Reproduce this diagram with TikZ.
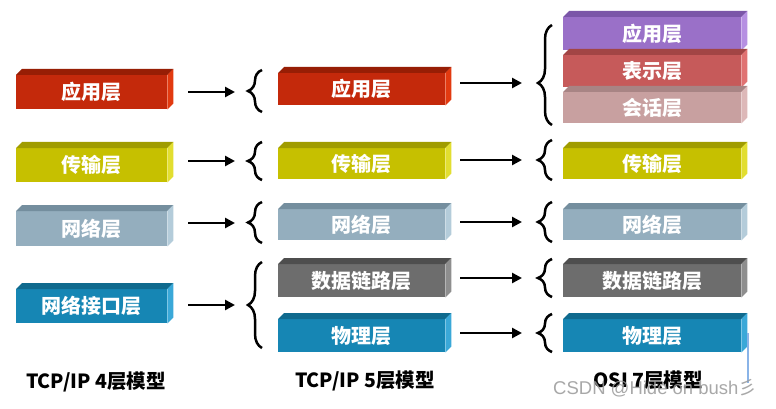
\documentclass[tikz,border=0pt]{standalone}
\usepackage{fontspec}
\setmainfont{Noto Sans CJK SC}
\newfontfamily\latinsans{Liberation Sans}
\usetikzlibrary{decorations.pathreplacing,arrows.meta,calc}

\definecolor{redF}{HTML}{C4290B}\definecolor{redT}{HTML}{971E05}\definecolor{redS}{HTML}{E23A10}
\definecolor{yelF}{HTML}{C6C000}\definecolor{yelT}{HTML}{A09C00}\definecolor{yelS}{HTML}{E2DE30}
\definecolor{gbF}{HTML}{94AEBE}\definecolor{gbT}{HTML}{748E9E}\definecolor{gbS}{HTML}{B4CCDA}
\definecolor{blF}{HTML}{1686B4}\definecolor{blT}{HTML}{0F6A8E}\definecolor{blS}{HTML}{3AA8D8}
\definecolor{dgF}{HTML}{6D6D6D}\definecolor{dgT}{HTML}{4E4E4E}\definecolor{dgS}{HTML}{8E8E8E}
\definecolor{puF}{HTML}{9A70C8}\definecolor{puT}{HTML}{7B56A8}\definecolor{puS}{HTML}{B690E2}
\definecolor{orF}{HTML}{C65A5A}\definecolor{orT}{HTML}{A24545}\definecolor{orS}{HTML}{E07272}
\definecolor{pkF}{HTML}{C8A0A0}\definecolor{pkT}{HTML}{A88484}\definecolor{pkS}{HTML}{DDB8B8}
\definecolor{markblue}{HTML}{8AB4E8}

\tikzset{
  layerbox/.style={rectangle, inner sep=0pt, fill=#1, text=white, anchor=north west,
    font=\bfseries\fontsize{20}{20}\selectfont},
  arr/.style={line width=2.8pt, -{Triangle[length=10pt,width=10pt]}},
  brc/.style={decorate, decoration={brace, amplitude=14pt, aspect=#1}, line width=2.5pt},
  brc/.default=0.5,
  caption/.style={font=\bfseries\fontsize{19.5}{19.5}\selectfont, text=black},
}

% name, x1, y1, x2, y2, front, top, side, text
\newcommand\lyr[9]{%
  \node[layerbox=#6, minimum width={#4pt-#2pt}, minimum height={#5pt-#3pt}] (#1) at (#2,#3) {#9};
  \fill[#7] (#1.north west) -- ++(6,-6) -- ($(#1.north east)+(6,-6)$) -- (#1.north east) -- cycle;
  \fill[#8] (#1.north east) -- ++(6,-6) -- ($(#1.south east)+(6,-6)$) -- (#1.south east) -- cycle;
}

\begin{document}
\begin{tikzpicture}[x=1pt,y=-1pt]
\useasboundingbox[fill=white] (0,0) rectangle (776,409);

% column 1: TCP/IP 4 layers
\lyr{A1}{16}{75}{167}{109}{redF}{redT}{redS}{应用层}
\lyr{A2}{16}{148}{167}{182}{yelF}{yelT}{yelS}{传输层}
\lyr{A3}{16}{211}{167}{246}{gbF}{gbT}{gbS}{网络层}
\lyr{A4}{16}{289}{167}{323}{blF}{blT}{blS}{网络接口层}

% column 2: TCP/IP 5 layers
\lyr{B1}{278}{73}{445}{105}{redF}{redT}{redS}{应用层}
\lyr{B2}{278}{148}{445}{179}{yelF}{yelT}{yelS}{传输层}
\lyr{B3}{278}{209}{445}{240}{gbF}{gbT}{gbS}{网络层}
\lyr{B4}{278}{264}{445}{297}{dgF}{dgT}{dgS}{数据链路层}
\lyr{B5}{278}{319}{445}{352}{blF}{blT}{blS}{物理层}

% column 3: OSI 7 layers
\lyr{C1}{563}{17}{741}{50}{puF}{puT}{puS}{应用层}
\lyr{C2}{563}{55}{741}{87}{orF}{orT}{orS}{表示层}
\lyr{C3}{563}{92}{741}{123}{pkF}{pkT}{pkS}{会话层}
\lyr{C4}{563}{148}{741}{179}{yelF}{yelT}{yelS}{传输层}
\lyr{C5}{563}{209}{741}{240}{gbF}{gbT}{gbS}{网络层}
\lyr{C6}{563}{264}{741}{297}{dgF}{dgT}{dgS}{数据链路层}
\lyr{C7}{563}{319}{741}{352}{blF}{blT}{blS}{物理层}

% braces before column 2
\draw[brc] (262,112) -- (262,70);  \coordinate (p1) at (248,92);
\draw[brc] (262,180) -- (262,142); \coordinate (p2) at (248,161);
\draw[brc] (262,243) -- (262,202); \coordinate (p3) at (248,223);
\draw[brc] (262,348) -- (262,262); \coordinate (p4) at (248,305);

% braces before column 3
\draw[brc=0.42] (552,125) -- (552,25); \coordinate (q1) at (538,83);
\draw[brc] (552,180) -- (552,140); \coordinate (q2) at (538,160);
\draw[brc] (552,242) -- (552,202); \coordinate (q3) at (538,222);
\draw[brc] (552,297) -- (552,259); \coordinate (q4) at (538,278);
\draw[brc] (552,352) -- (552,314); \coordinate (q5) at (538,333);

% arrows column 1 -> column 2
\draw[arr, shorten <=21pt, shorten >=13pt] (A1.east |- p1) -- (p1);
\draw[arr, shorten <=21pt, shorten >=13pt] (A2.east |- p2) -- (p2);
\draw[arr, shorten <=21pt, shorten >=13pt] (A3.east |- p3) -- (p3);
\draw[arr, shorten <=21pt, shorten >=13pt] (A4.east |- p4) -- (p4);

% arrows column 2 -> column 3
\draw[arr, shorten <=15pt, shorten >=16pt] (B1.east |- q1) -- (q1);
\draw[arr, shorten <=15pt, shorten >=16pt] (B2.east |- q2) -- (q2);
\draw[arr, shorten <=15pt, shorten >=16pt] (B3.east |- q3) -- (q3);
\draw[arr, shorten <=15pt, shorten >=16pt] (B4.east |- q4) -- (q4);
\draw[arr, shorten <=15pt, shorten >=16pt] (B5.east |- q5) -- (q5);

% captions
\node[caption] (L1) at (96,382) {TCP/IP 4层模型};
\node[caption] (L2) at (365,381) {TCP/IP 5层模型};
\node[caption] (L3) at (648,380) {OSI 7层模型};

% watermark
\draw[markblue, line width=1.2pt] (748,333) -- (748,383);
\node[anchor=west, inner sep=0pt, text=gray!80, opacity=0.85, font=\fontsize{18.5}{18.5}\selectfont] (W) at (553,388) {{\latinsans CSDN @Hide on bush}彡};
\end{tikzpicture}
\end{document}
